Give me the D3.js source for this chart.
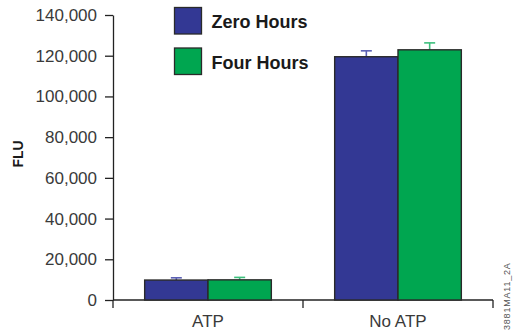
<!DOCTYPE html>
<html>
<head>
<meta charset="utf-8">
<script src="https://cdn.jsdelivr.net/npm/d3@7"></script>
<style>
  html, body { margin: 0; padding: 0; background: #fff; }
  svg { display: block; }
</style>
</head>
<body>
<svg id="chart" width="513" height="332"></svg>
<script>
const categories = ["ATP", "No ATP"];
const seriesNames = ["Zero Hours", "Four Hours"];
const zeroHours = [9800, 119500];
const fourHours = [9900, 122900];
const zeroHoursErr = [1100, 2900];
const fourHoursErr = [1200, 3400];
const yTicks = [0, 20000, 40000, 60000, 80000, 100000, 120000, 140000];
const footnote = "3881MA11_2A";

(function () {
const fills = ["#333894", "#00a650"];
const errColors = ["#5b60b4", "#3cbf7c"];

const svg = d3.select("#chart");
const mLeft = 113, mRight = 493, mTop = 15, mBottom = 300;

const x = d3.scaleBand().domain(categories).range([mLeft, mRight]).paddingInner(0).paddingOuter(0);
const inner = d3.scaleBand().domain(seriesNames).range([0, x.bandwidth()]).paddingInner(0).paddingOuter(0.5);
const y = d3.scaleLinear().domain([0, 140000]).range([mBottom, mTop]);

const fmt = d3.format(",");

// Y axis
const yAxis = svg.append("g")
  .attr("transform", `translate(${mLeft},0)`)
  .call(d3.axisLeft(y).tickValues(yTicks).tickFormat(fmt).tickSize(8).tickSizeOuter(0).tickPadding(8));
yAxis.select(".domain").attr("stroke", "#222").attr("stroke-width", 1.3);
yAxis.selectAll(".tick line").attr("stroke", "#222").attr("stroke-width", 1.3);
yAxis.selectAll(".tick text")
  .attr("fill", "#3a3a3a")
  .style("font-family", "'Liberation Sans', Arial, sans-serif")
  .style("font-size", "17px");

// X axis line and boundary ticks
const boundaries = [mLeft].concat(categories.map(c => x(c) + x.bandwidth()));
svg.append("line")
  .attr("x1", mLeft).attr("x2", mRight)
  .attr("y1", mBottom).attr("y2", mBottom)
  .attr("stroke", "#222").attr("stroke-width", 1.3);
svg.selectAll(".xb").data(boundaries).join("line")
  .attr("class", "xb")
  .attr("x1", d => d).attr("x2", d => d)
  .attr("y1", mBottom).attr("y2", mBottom + 8)
  .attr("stroke", "#222").attr("stroke-width", 1.3);
svg.selectAll(".xl").data(categories).join("text")
  .attr("class", "xl")
  .attr("x", d => x(d) + x.bandwidth() / 2)
  .attr("y", 327)
  .attr("text-anchor", "middle")
  .attr("fill", "#3a3a3a")
  .style("font-family", "'Liberation Sans', Arial, sans-serif")
  .style("font-size", "17px")
  .text(d => d);

// Bars
const series = [zeroHours, fourHours];
const errs = [zeroHoursErr, fourHoursErr];
seriesNames.forEach((s, si) => {
  const g = svg.append("g");
  categories.forEach((c, ci) => {
    const v = series[si][ci];
    const e = errs[si][ci];
    const bx = x(c) + inner(s);
    const bw = inner.bandwidth();
    const cx = bx + bw / 2;
    g.append("line")
      .attr("x1", cx).attr("x2", cx)
      .attr("y1", y(v)).attr("y2", y(v + e))
      .attr("stroke", errColors[si]).attr("stroke-width", 1.6);
    g.append("line")
      .attr("x1", cx - 5.5).attr("x2", cx + 5.5)
      .attr("y1", y(v + e)).attr("y2", y(v + e))
      .attr("stroke", errColors[si]).attr("stroke-width", 1.6);
    g.append("rect")
      .attr("x", bx).attr("y", y(v))
      .attr("width", bw).attr("height", y(0) - y(v))
      .attr("fill", fills[si])
      .attr("stroke", "#2a2a2a").attr("stroke-width", 1.4);
  });
});

// Legend
const legend = svg.append("g");
seriesNames.forEach((s, i) => {
  const ly = 7.5 + i * 40.5;
  legend.append("rect")
    .attr("x", 174.5).attr("y", ly)
    .attr("width", 27).attr("height", 26.5)
    .attr("fill", fills[i])
    .attr("stroke", "#2a2a2a").attr("stroke-width", 1.3);
  legend.append("text")
    .attr("x", 211.5).attr("y", ly + 20.5)
    .attr("fill", "#1a1a1a")
    .style("font-family", "'Liberation Sans', Arial, sans-serif")
    .style("font-weight", "bold")
    .style("font-size", "18px")
    .text(s);
});

// Y axis title
svg.append("text")
  .attr("transform", "translate(23,154) rotate(-90)")
  .attr("text-anchor", "middle")
  .attr("fill", "#1a1a1a")
  .style("font-family", "'Liberation Sans', Arial, sans-serif")
  .style("font-weight", "bold")
  .style("font-size", "14px")
  .text("FLU");

// Footnote code
svg.append("text")
  .attr("transform", "translate(510,330) rotate(-90)")
  .attr("text-anchor", "start")
  .attr("fill", "#555")
  .style("font-family", "'Liberation Sans', Arial, sans-serif")
  .style("font-size", "9px")
  .style("letter-spacing", "0.8px")
  .text(footnote);
})();
</script>
</body>
</html>
